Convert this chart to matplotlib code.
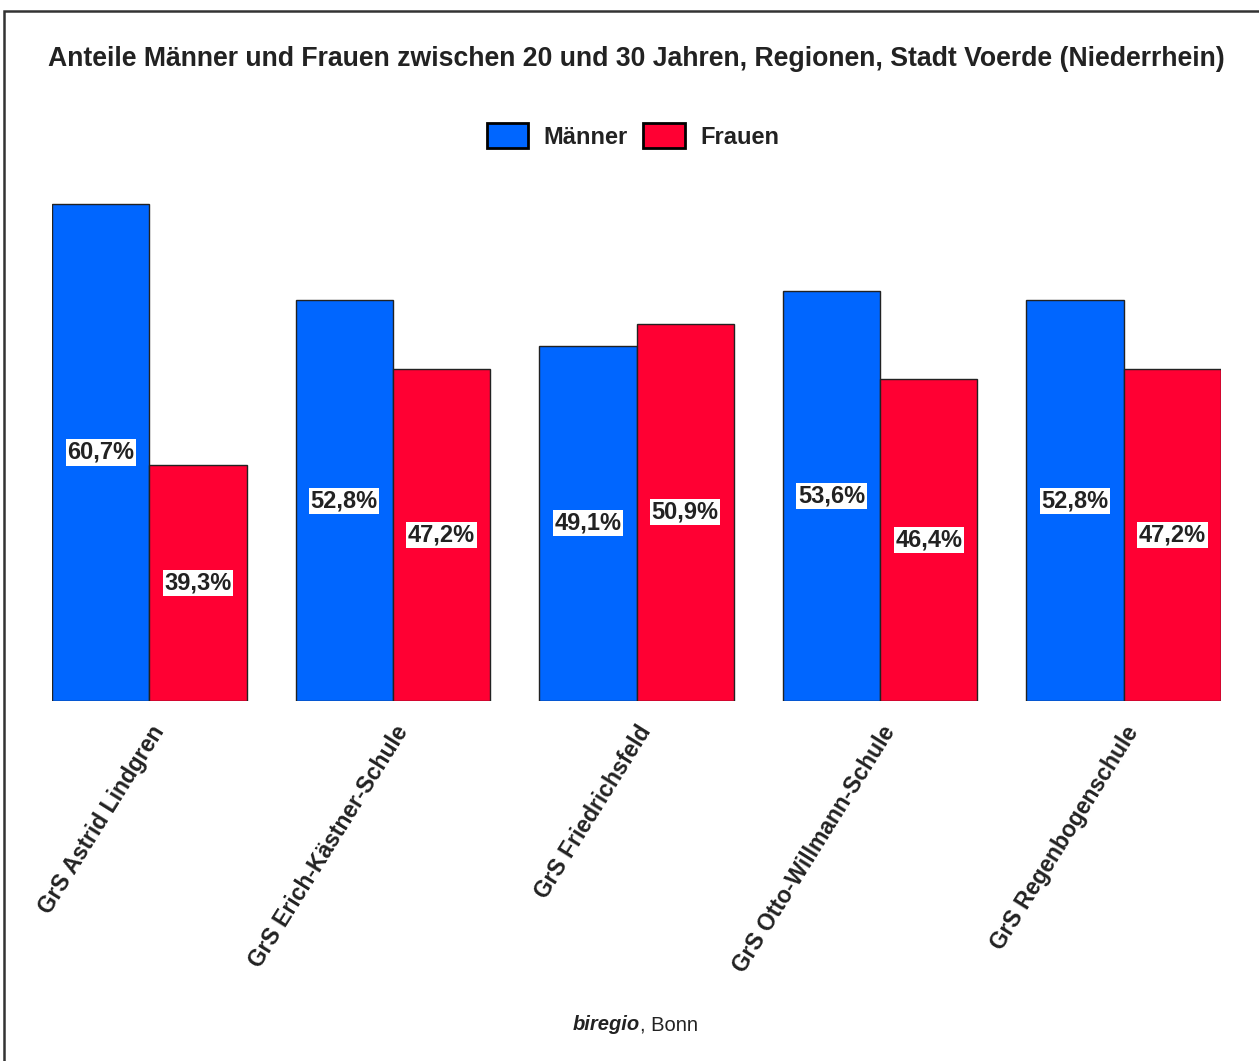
import numpy as np
import matplotlib
matplotlib.use("Agg")
import matplotlib.pyplot as plt
from matplotlib.patches import Patch, Rectangle

plt.rcParams['font.family'] = ['Liberation Sans', 'DejaVu Sans']

# Daten
schulen = ["GrS Astrid Lindgren", "GrS Erich-Kästner-Schule", "GrS Friedrichsfeld",
           "GrS Otto-Willmann-Schule", "GrS Regenbogenschule"]
maenner = [60.7, 52.8, 49.1, 53.6, 52.8]
frauen = [39.3, 47.2, 50.9, 46.4, 47.2]
serien = ["Männer", "Frauen"]

blau = "#0066FF"
rot = "#FF0033"
kante = "#222222"

fig = plt.figure(figsize=(12.59, 10.61), dpi=100)
ax = fig.add_axes([52/1259, 1 - 701/1061, (1221 - 52)/1259, (701 - 182)/1061])

x = np.arange(len(schulen))
b = 0.4
basis = 20
ax.bar(x - b/2, np.array(maenner) - basis, b, bottom=basis, color=blau, edgecolor=kante, linewidth=1)
ax.bar(x + b/2, np.array(frauen) - basis, b, bottom=basis, color=rot, edgecolor=kante, linewidth=1)

# Werte in der Mitte der Balken
for xi, v in zip(x - b/2, maenner):
    ax.text(xi, (basis + v)/2, f"{v:.1f}%".replace(".", ","), ha="center", va="center",
            fontsize=17, fontweight="bold", color="#222222",
            bbox=dict(facecolor="white", edgecolor="none", pad=1.2))
for xi, v in zip(x + b/2, frauen):
    ax.text(xi, (basis + v)/2, f"{v:.1f}%".replace(".", ","), ha="center", va="center",
            fontsize=17, fontweight="bold", color="#222222",
            bbox=dict(facecolor="white", edgecolor="none", pad=1.2))

ax.set_xlim(-0.4, len(schulen) - 1 + 0.4)
ax.set_ylim(basis, 62.5)
ax.set_xticks(x)
ax.set_xticklabels(schulen, rotation=58, ha="right", rotation_mode="anchor",
                   fontsize=16.5, fontweight="bold", color="#222222")
ax.tick_params(axis="x", length=0, pad=15)
ax.set_yticks([])
for s in ax.spines.values():
    s.set_visible(False)

fig.text(636/1259, 1 - 59/1061, "Anteile Männer und Frauen zwischen 20 und 30 Jahren, Regionen, Stadt Voerde (Niederrhein)",
         ha="center", va="center", fontsize=19.2, fontweight="bold", color="#222222")

handles = [Patch(facecolor=blau, edgecolor="black", linewidth=2),
           Patch(facecolor=rot, edgecolor="black", linewidth=2)]
fig.legend(handles, serien, loc="center", bbox_to_anchor=(633/1259, 1 - 136/1061), ncol=2,
           frameon=False, prop=dict(size=17, weight="bold"), handlelength=1.75, handleheight=1.25,
           columnspacing=0.65, handletextpad=0.65, labelcolor="#222222")

fig.text(640/1259, 1 - 1025/1061, "biregio", ha="right", va="center", fontsize=14.5,
         fontweight="bold", style="italic", color="#222222")
fig.text(640/1259, 1 - 1025/1061, ", Bonn", ha="left", va="center", fontsize=14.5,
         color="#222222")

# Rahmen (nur links und oben sichtbar)
fig.patches.append(Rectangle((3.5/1259, -0.05), 1.2, 1 - 10.5/1061 + 0.05, transform=fig.transFigure,
                             fill=False, edgecolor="#333333", linewidth=1.8))

fig.savefig("out.png", dpi=100)
